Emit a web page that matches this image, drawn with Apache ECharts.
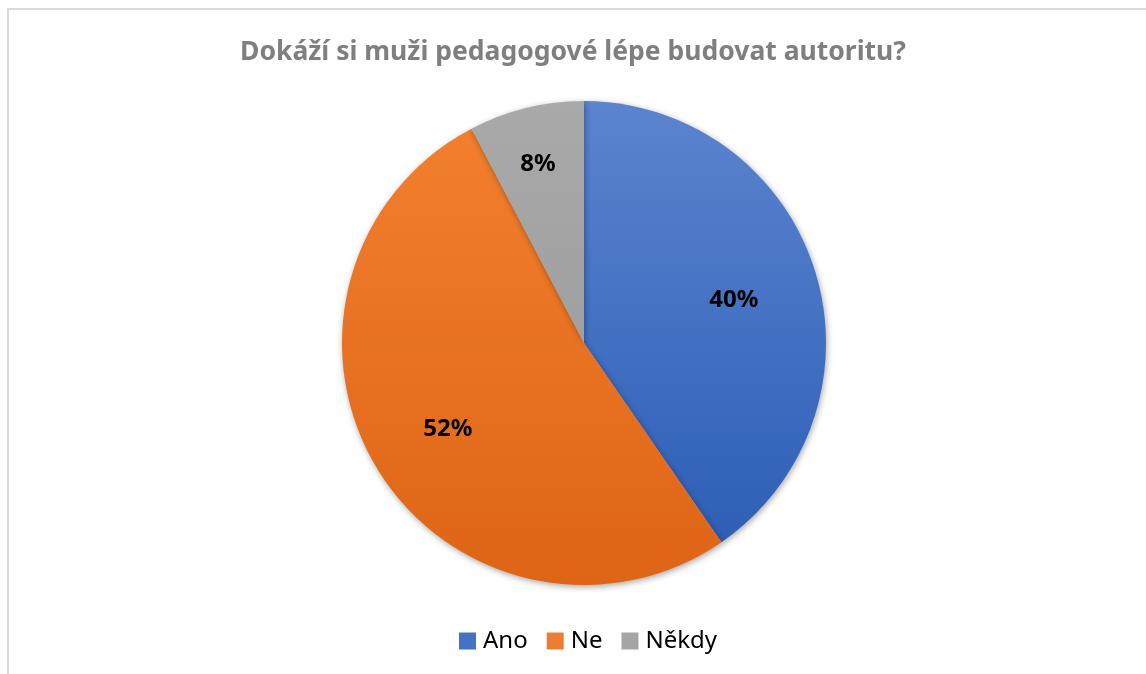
<!DOCTYPE html>
<html>
<head>
<meta charset="utf-8">
<script src="https://cdn.jsdelivr.net/npm/echarts@6/dist/echarts.min.js"></script>
<style>
html,body{margin:0;padding:0;background:#fff;}
#chart{width:1146px;height:674px;}
</style>
</head>
<body>
<div id="chart"></div>
<script>
const titleText = 'Dokáží si muži pedagogové lépe budovat autoritu?';
const categories = ['Ano', 'Ne', 'Někdy'];
const values = [21, 27, 4];
const topColors = ['#5b84d0', '#f27f2e', '#a9a9a9'];
const bottomColors = ['#2d5fb6', '#de6416', '#a0a0a0'];
const legendColors = ['#4472c4', '#ed7d31', '#a5a5a5'];

const chart = echarts.init(document.getElementById('chart'), null, {renderer: 'canvas'});
const font = '"Noto Sans", sans-serif';
const center = ['584', '343'];
const labelCenter = ['583', '347'];
const R = 242;

const mainData = categories.map((c, i) => ({
  name: c,
  value: values[i],
  itemStyle: {
    color: {
      type: 'linear', x: 0, y: 0, x2: 0, y2: 1,
      colorStops: [{offset: 0, color: topColors[i]}, {offset: 1, color: bottomColors[i]}]
    }
  }
}));

function labelData(showIdx) {
  return categories.map((c, i) => ({
    name: c,
    value: values[i],
    label: {show: showIdx.includes(i)}
  }));
}

const labelStyle = {
  position: 'inside',
  formatter: p => Math.round(p.percent) + '%',
  color: '#000',
  fontFamily: font,
  fontWeight: 'bold',
  fontSize: 24
};

chart.setOption({
  animation: false,
  backgroundColor: '#fff',
  title: {
    text: titleText,
    left: 'center',
    top: 34,
    textStyle: {fontFamily: font, fontWeight: 'bold', fontSize: 26.5, color: '#7f7f7f'}
  },
  legend: {
    bottom: 16,
    left: 454,
    data: categories.map((c, i) => ({name: c, itemStyle: {color: legendColors[i]}})),
    icon: 'rect',
    itemWidth: 17,
    itemHeight: 17,
    itemGap: 19,
    textStyle: {fontFamily: font, fontSize: 24, color: '#000', padding: [0, 0, 0, 2]},
  },
  graphic: [{
    type: 'rect',
    shape: {x: 8, y: 9, width: 1200, height: 700},
    style: {fill: null, stroke: '#d9d9d9', lineWidth: 2},
    silent: true,
    z: -1
  }],
  series: [
    {
      type: 'pie',
      center: center,
      radius: [0, R],
      startAngle: 90,
      clockwise: true,
      label: {show: false},
      labelLine: {show: false},
      emphasis: {disabled: true},
      itemStyle: {shadowBlur: 6, shadowColor: 'rgba(0,0,0,0.35)', shadowOffsetX: 1, shadowOffsetY: 2},
      data: mainData
    },
    {
      type: 'pie',
      center: labelCenter,
      radius: [68, R],
      startAngle: 90,
      silent: true,
      itemStyle: {color: 'rgba(0,0,0,0)'},
      label: labelStyle,
      labelLine: {show: false},
      emphasis: {disabled: true},
      data: labelData([0, 1])
    },
    {
      type: 'pie',
      center: labelCenter,
      radius: [128, R],
      startAngle: 90,
      silent: true,
      itemStyle: {color: 'rgba(0,0,0,0)'},
      label: labelStyle,
      labelLine: {show: false},
      emphasis: {disabled: true},
      data: labelData([2])
    }
  ]
});
</script>
</body>
</html>
